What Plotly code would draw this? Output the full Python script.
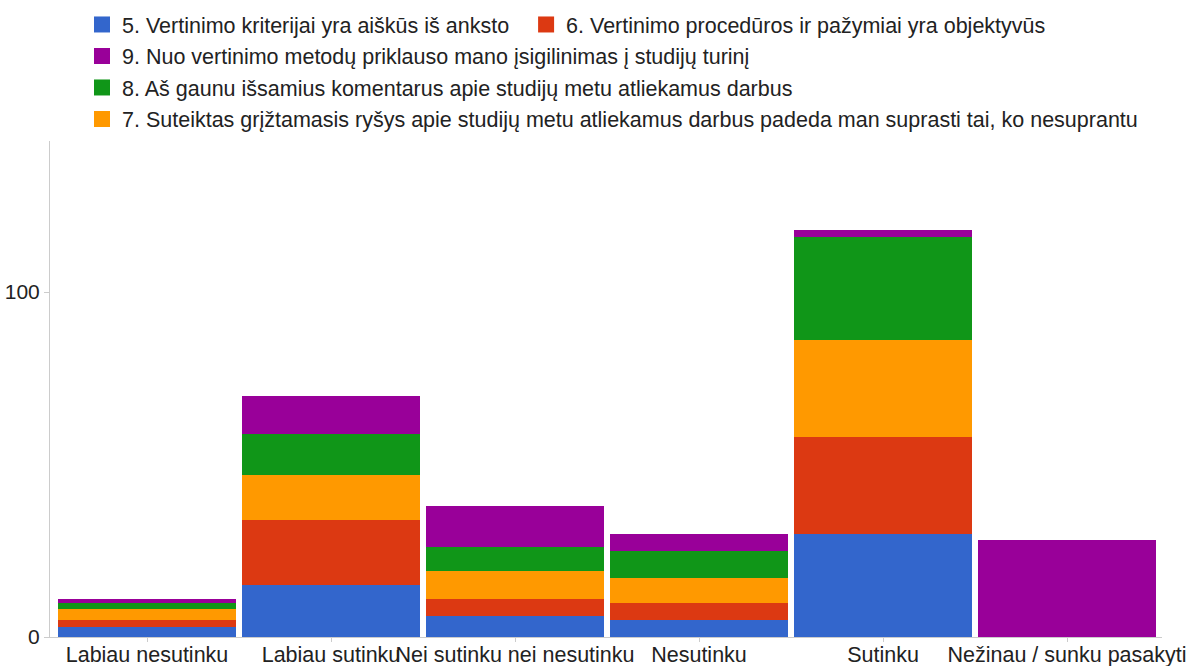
import plotly.graph_objects as go

categories = ["Labiau nesutinku", "Labiau sutinku", "Nei sutinku nei nesutinku",
              "Nesutinku", "Sutinku", "Nežinau / sunku pasakyti"]

series_names = [
    "5. Vertinimo kriterijai yra aiškūs iš anksto",
    "6. Vertinimo procedūros ir pažymiai yra objektyvūs",
    "7. Suteiktas grįžtamasis ryšys apie studijų metu atliekamus darbus padeda man suprasti tai, ko nesuprantu",
    "8. Aš gaunu išsamius komentarus apie studijų metu atliekamus darbus",
    "9. Nuo vertinimo metodų priklauso mano įsigilinimas į studijų turinį",
]
q5 = [3, 15, 6, 5, 30, 0]
q6 = [2, 19, 5, 5, 28, 0]
q7 = [3, 13, 8, 7, 28, 0]
q8 = [2, 12, 7, 8, 30, 0]
q9 = [1, 11, 12, 5, 2, 28]
values = [q5, q6, q7, q8, q9]
colors = ["#3366cc", "#dc3912", "#ff9900", "#109618", "#990099"]
# legend row each series appears in (reference layout: 5 & 6 share the first row)
legend_rows = ["legend", "legend", "legend4", "legend3", "legend2"]

W, H = 1187, 666
ML, MR, MT, MB = 50, 25, 141, 29
plot_w = W - ML - MR
plot_h = H - MT - MB

fig = go.Figure()
for i, (name, vals, col) in enumerate(zip(series_names, values, colors)):
    fig.add_trace(go.Bar(
        x=categories, y=vals, name=name,
        marker=dict(color=col, line=dict(width=0)),
        legendgroup=f"s{i}", showlegend=False,
    ))
# legend entries with larger square swatches, linked to the bar series
for i, (name, col, lg) in enumerate(zip(series_names, colors, legend_rows)):
    label = name + ("\u00a0\u00a0" if i == 0 else "")
    fig.add_trace(go.Scatter(
        x=[None], y=[None], mode="markers", name=label,
        marker=dict(symbol="square", size=16, color=col, line=dict(width=0)),
        legendgroup=f"s{i}", showlegend=True, legend=lg, hoverinfo="skip",
    ))

font_family = "Liberation Sans, Arial, sans-serif"
row_centers = [24.5, 56, 87.5, 119]
legend_left = 82


def legend_cfg(yc):
    return dict(
        orientation="h", traceorder="normal",
        xref="container", yref="container",
        x=legend_left / W, xanchor="left",
        y=1 - yc / H, yanchor="middle",
        font=dict(size=21.5, color="#222222", family=font_family),
        bgcolor="rgba(0,0,0,0)",
    )


# x range chosen so that category centres sit where the reference draws them
cat_px = 184.0
x0 = -(147 - ML) / cat_px
x1 = x0 + plot_w / cat_px

fig.update_layout(
    barmode="stack",
    bargap=0.033,
    width=W, height=H,
    margin=dict(l=ML, r=MR, t=MT, b=MB),
    paper_bgcolor="white", plot_bgcolor="white",
    font=dict(family=font_family, size=21, color="#222222"),
    legend=legend_cfg(row_centers[0]),
    legend2=legend_cfg(row_centers[1]),
    legend3=legend_cfg(row_centers[2]),
    legend4=legend_cfg(row_centers[3]),
    showlegend=True,
)
fig.update_xaxes(
    range=[x0, x1],
    showline=True, linecolor="#cccccc", linewidth=1,
    ticks="outside", ticklen=4, tickcolor="#cccccc",
    tickangle=0, showgrid=False, automargin=False,
    tickfont=dict(size=21.5, color="#222222"),
    ticklabelstandoff=-6,
)
fig.update_yaxes(
    range=[0, 143.8], tickvals=[0, 100],
    showline=True, linecolor="#cccccc", linewidth=1,
    ticks="outside", ticklen=5, tickcolor="#cccccc",
    showgrid=False, zeroline=False, automargin=False,
    tickfont=dict(size=21, color="#222222"),
)

fig.write_html(
    "out.html",
    config={"displayModeBar": False},
    post_script="document.body.style.margin='0';document.body.style.overflow='hidden';",
)
